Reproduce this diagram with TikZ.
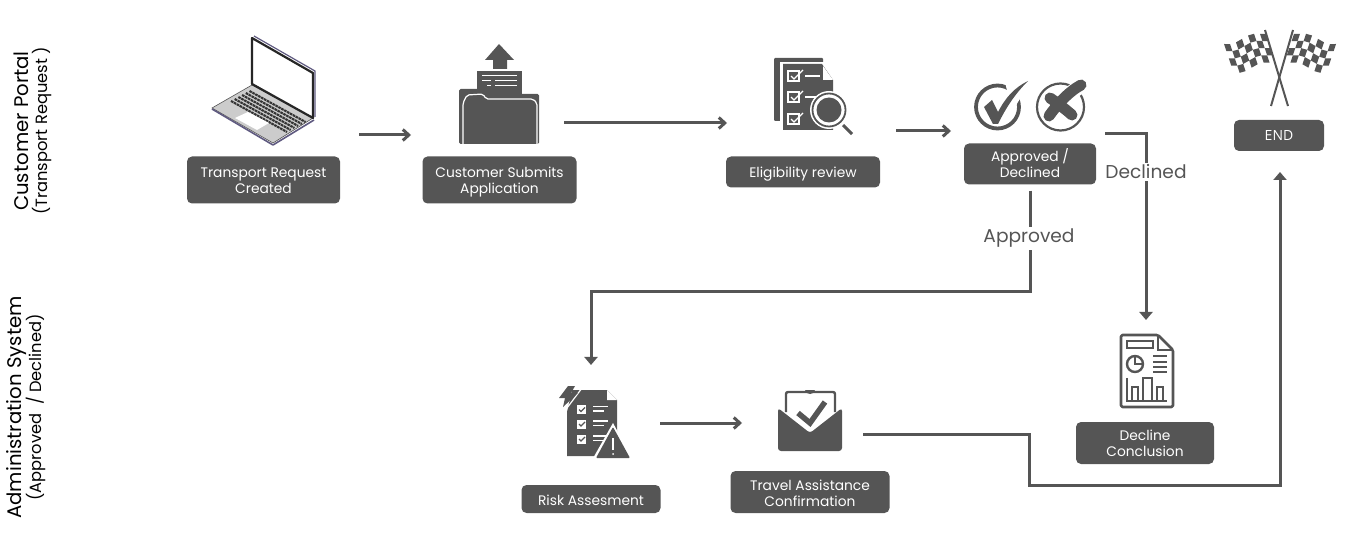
\documentclass[tikz,border=0pt]{standalone}
\usepackage{fontspec}
\setmainfont{Poppins}
\newfontfamily\plainfont{Open Sans}
\usetikzlibrary{arrows.meta,positioning,calc}
\definecolor{ink}{HTML}{555555}
\definecolor{lid}{HTML}{5F5A80}
\newcommand{\toprow}[1]{\rule{0pt}{#1pt}}
\begin{document}
\begin{tikzpicture}[x=1pt,y=-1pt,font=\fontsize{13.8}{16}\selectfont,
 stage/.style={fill=ink,text=white,rounded corners=5pt,align=center,inner sep=0pt,minimum height=47pt},
 flow/.style={-{Straight Barb[length=6pt,width=11pt]},line width=3pt,draw=ink},
 run/.style={-{Triangle[length=8pt,width=13pt]},line width=3pt,draw=ink},
 tag/.style={fill=white,text=ink,font=\fontsize{18.6}{20}\selectfont,inner sep=2pt},
 lane/.style={rotate=90,align=center,text=black,font=\fontsize{19.7}{20}\selectfont},
 blob/.style={fill=ink,draw=none}]
\useasboundingbox (0,0) rectangle (1366,545);

% swimlane captions
\node[lane] (portal) at (33,131) {Customer Portal\\[-1pt]{\fontsize{16.3}{17}\selectfont(Transport Request )}};
\node[lane] (admin) at (26,407.5) {Administration System\\[-1pt]{\fontsize{16.3}{17}\selectfont(Approved\ \ / Declined)}};

% stage boxes
\node[stage,minimum width=153pt] (created) at (263.5,180) {\toprow{12}Transport Request\\Created};
\node[stage,minimum width=154pt] (submits) at (499.5,180) {\toprow{14}Customer Submits\\Application};
\node[stage,minimum width=154pt,minimum height=31pt,text height=11pt,text depth=0pt] (review) at (803,172) {Eligibility review};
\node[stage,minimum width=132pt,minimum height=41pt] (decision) at (1030,164) {Approved /\\Declined\rule[-2pt]{0pt}{1pt}};
\node[stage,minimum width=90pt,minimum height=31pt,font=\plainfont\fontsize{14}{16}\selectfont] (finish) at (1279,135.5) {END};
\node[stage,minimum width=139pt,minimum height=28pt,text height=13pt,text depth=0pt] (risk) at (591,499) {Risk Assesment};
\node[stage,minimum width=159pt,minimum height=42pt] (assist) at (810,492) {\toprow{14}Travel Assistance\\Confirmation};
\node[stage,minimum width=138pt,minimum height=42pt] (conclude) at (1145,443) {\toprow{12}Decline\\Conclusion};

% laptop
\draw[draw=ink,line width=.6pt,fill=gray!40] (212,108) -- (252,85) -- (313,118) -- (273,143) -- cycle;
\draw[draw=lid,line width=1.6pt,line join=round] (212,109) -- (273,145) -- (314,120);
\foreach \r in {0,...,5}
 \draw[black!80,line width=2.1pt,dash pattern=on 2.6pt off .7pt]
  ($(231,101)+(\r*3.7,-2*\r)$) -- ($(287,132)+(\r*3.7,-2*\r)$);
\fill[white] (235,118) -- (248,112) -- (269,123) -- (257,130) -- cycle;
\draw[draw=black!85,line width=2.2pt,fill=white,line join=round] (252,38) -- (313,73) -- (313,118) -- (252,84) -- cycle;
\draw[lid,line width=1.2pt] (254,36) -- (315,71) -- (315,117);

% folder with outgoing sheet
\fill[blob] (499,44) -- (514,60) -- (507,60) -- (507,69) -- (493,69) -- (493,60) -- (485,60) -- cycle;
\fill[blob] (477,71) rectangle (522,94);
\draw[white,line width=1pt] (482,76) -- (517,76);
\draw[white,line width=1pt] (482,81) -- (491,81) (495,81) -- (517,81);
\draw[white,line width=1pt] (487,86) -- (491,86) (495,86) -- (517,86);
\fill[blob,rounded corners=1.5pt] (459,89) -- (482,89) -- (486,94) -- (539,94) -- (539,144) -- (459,144) -- cycle;
\draw[white,line width=1.2pt,rounded corners=2pt] (463,144) -- (463,103) -- (467,95) -- (483,94) -- (486,99) -- (533,99) -- (537,103) -- (537,144);

% checklist under a magnifier
\fill[blob,rounded corners=1pt] (774,58) rectangle (823,121);
\fill[white] (780,62) rectangle (834,131);
\fill[blob] (783,64) -- (822,64) -- (833,80) -- (833,130) -- (783,130) -- cycle;
\foreach \y in {76,97,119} {
 \draw[white,line width=1.4pt] (788,\y-5) rectangle (799,\y+5);
 \draw[white,line width=1.2pt] (791,\y) -- (794,\y+3) -- (803,\y-6);
}
\draw[white,line width=1.5pt] (805,76) -- (820,76);
\draw[white,line width=1.5pt] (805,97) -- (816,97);
\fill[white] (823,66) -- (823,80) -- (833,80) -- cycle;
\fill[white] (829,110) circle (19);
\draw[ink,line width=1.8pt] (829,110) circle (16.5);
\fill[blob] (829,110) circle (12.5);
\draw[ink,line width=3pt] (843,125) -- (852,134);

% approve and decline marks
\draw[ink,line width=3.8pt] (997.5,107) circle (21.5);
\fill[white] (1005,82) -- (1030,82) -- (1012,112) -- cycle;
\fill[blob] (984,107) -- (992,100) -- (998,112) .. controls (1006,97) and (1014,88) .. (1028,81) .. controls (1014,95) and (1006,108) .. (998,124) -- (993,124) -- cycle;
\draw[ink,line width=2.2pt] (1060.5,107) circle (23.5);
\draw[white,line width=15pt,line cap=round] (1066,97) -- (1080,86);
\draw[ink,line width=11pt,line cap=round] (1050,98) .. controls (1056,102) and (1064,108) .. (1072,115);
\draw[ink,line width=11pt,line cap=round] (1049,116) .. controls (1056,106) and (1068,92) .. (1081,85);

% crossed chequered flags
\draw[ink,line width=2pt] (1265,30) -- (1288,106);
\draw[ink,line width=2pt] (1293,30) -- (1271,106);
\foreach \a in {0,...,6} \foreach \b in {0,...,3} {
 \pgfmathtruncatemacro{\cellodd}{mod(\a+\b,2)}
 \pgfmathsetmacro{\wavea}{2*sin(\a*60)}
 \pgfmathsetmacro{\waveb}{2*sin((\a+1)*60)}
 \ifnum\cellodd=0
  \fill[ink] ($(1224,44)+(\a*6,-\a*1.7+\wavea)+(\b*2.4,\b*7.2)$) -- ++(6,-1.7-\wavea+\waveb) -- ++(2.4,7.2) -- ++(-6,1.7+\wavea-\waveb) -- cycle;
  \fill[ink] ($(1336,44)+(-\a*6,-\a*1.7+\wavea)+(-\b*2.4,\b*7.2)$) -- ++(-6,-1.7-\wavea+\waveb) -- ++(-2.4,7.2) -- ++(6,1.7+\wavea-\waveb) -- cycle;
 \fi
}

% decline report
\draw[ink,line width=2.6pt,line join=round,rounded corners=1.5pt] (1121,335) -- (1158,335) -- (1173,350) -- (1173,407) -- (1121,407) -- cycle;
\draw[ink,line width=2.2pt] (1158,335) -- (1158,350) -- (1173,350);
\draw[ink,line width=2.2pt] (1127,341) rectangle (1153,348);
\draw[ink,line width=2.4pt] (1135,364) circle (8);
\draw[ink,line width=2.4pt] (1135,356) -- (1135,364) -- (1143,364);
\foreach \y in {356,362,367,372} \draw[ink,line width=2.2pt] (1153,\y) -- (1167,\y);
\draw[ink,line width=2.4pt] (1127,378) -- (1127,401) -- (1167,401);
\draw[ink,line width=2.2pt] (1132,401) -- (1132,387) -- (1138,387) -- (1138,401);
\draw[ink,line width=2.2pt] (1143,401) -- (1143,378) -- (1152,378) -- (1152,401);
\draw[ink,line width=2.2pt] (1157,401) -- (1157,387) -- (1163,387) -- (1163,401);

% risk checklist with warning sign
\fill[blob] (572,390) -- (607,390) -- (617,400) -- (617,456) -- (567,456) -- (567,412) -- cycle;
\fill[white] (607,390) -- (607,400) -- (617,400) -- cycle;
\draw[white,line width=1.2pt] (564,412) -- (582,388);
\fill[blob] (568,386) -- (559,398) -- (565,398) -- (563,407) -- (578,393) -- (571,393) -- (575,386) -- cycle;
\foreach \y in {409.5,424,439} {
 \fill[white] (577,\y-4.5) rectangle (586,\y+4.5);
 \draw[ink,line width=1.2pt] (579,\y) -- (581,\y+2) -- (585,\y-2);
 \draw[white,line width=1.3pt] (593,\y-3) -- (608,\y-3);
 \draw[white,line width=1.3pt] (593,\y+1.5) -- (604,\y+1.5);
}
\fill[white] (613,423) -- (592,460) -- (633,460) -- cycle;
\fill[blob,rounded corners=1pt] (613,427) -- (596,458) -- (630,458) -- cycle;
\draw[white,line width=1.5pt] (613,438) -- (613,450);
\fill[white] (613,454) circle (1);

% envelope with confirmation card
\fill[blob,rounded corners=3pt] (778,408) -- (810,433) -- (842,408) -- (842,451) -- (778,451) -- cycle;
\draw[ink,line width=2.4pt,rounded corners=2pt] (786,412) -- (786,392) -- (835,392) -- (835,412);
\fill[ink] (805,390) arc (180:360:5 and -4);
\draw[ink,line width=5.5pt] (798,413) -- (810,423) -- (825,402);

% connectors, free ends sit next to the icons
\coordinate (laptopout) at (359,135);
\coordinate (folderin) at (411,135);
\coordinate (folderout) at (564,123);
\coordinate (reviewin) at (727,123);
\coordinate (reviewout) at (896,131);
\coordinate (marksin) at (951,131);
\coordinate (marksout) at (1105,134);
\coordinate (reportin) at (1146,320);
\coordinate (riskin) at (591,365);
\coordinate (riskout) at (660,423);
\coordinate (mailin) at (742,423);
\coordinate (mailout) at (863,434);
\coordinate (finishin) at (1280,172);
\draw[flow] (laptopout) -- (folderin);
\draw[flow] (folderout) -- (reviewin);
\draw[flow] (reviewout) -- (marksin);
\draw[flow] (riskout) -- (mailin);
\draw[run] (marksout) -| (reportin);
\draw[run] ([yshift=-6pt]decision.south) -- (1030,292) -| (riskin);
\draw[run] (mailout) -- (1029,434) -- (1029,485) -| (finishin);
\node[tag] (declined) at (1146,172) {Declined};
\node[tag] (approved) at (1029,238.5) {Approved};
\end{tikzpicture}
\end{document}
